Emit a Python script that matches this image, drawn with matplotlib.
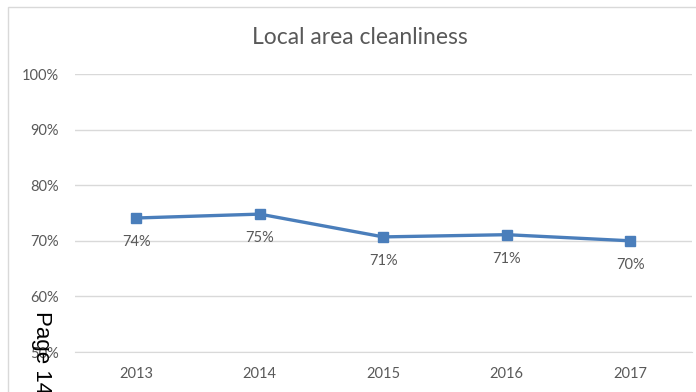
import matplotlib
matplotlib.use("Agg")
import matplotlib.pyplot as plt
from matplotlib.patches import Rectangle

years = ["2013", "2014", "2015", "2016", "2017"]
values = [74.1, 74.8, 70.7, 71.1, 70.0]
labels = ["74%", "75%", "71%", "71%", "70%"]
yticks = [50, 60, 70, 80, 90, 100]

W, H = 696, 392
fig = plt.figure(figsize=(W / 100, H / 100), dpi=100)
fig.patch.set_facecolor("white")

# outer chart border
fig.patches.append(Rectangle((8 / W, -0.1), 1.2, (H - 7) / H + 0.1, transform=fig.transFigure,
                             fill=False, edgecolor="#d9d9d9", linewidth=1.0))

ax = fig.add_axes([74.5 / W, (H - 352) / H, (692 - 74.5) / W, (352 - 74) / H])
x = list(range(len(years)))
ax.plot(x, values, color="#4a7ebb", linewidth=2.4, marker="s", markersize=6.5,
        markerfacecolor="#4a7ebb", markeredgecolor="#4a7ebb", zorder=3)
for xi, v, lab in zip(x, values, labels):
    ax.annotate(lab, (xi, v), xytext=(0, -17.5), textcoords="offset points",
                ha="center", va="center", fontsize=10.5, color="#595959", family="Lato")

ax.set_xlim(-0.5, len(years) - 0.5)
ax.set_ylim(50, 100)
ax.set_yticks(yticks)
ax.set_yticklabels([f"{t}%" for t in yticks], fontsize=10.5, color="#595959", family="Lato")
ax.set_xticks(x)
ax.set_xticklabels(years, fontsize=10.5, color="#595959", family="Lato")
ax.tick_params(axis="both", length=0)
ax.tick_params(axis="y", pad=11)
ax.tick_params(axis="x", pad=11)
ax.grid(axis="y", color="#d9d9d9", linewidth=1.0)
ax.set_axisbelow(True)
for s in ["top", "right", "left"]:
    ax.spines[s].set_visible(False)
ax.spines["bottom"].set_color("#d9d9d9")

fig.text(360 / W, 1 - 38 / H, "Local area cleanliness", ha="center", va="center",
         fontsize=16.5, color="#595959", family="Lato")

fig.text(41 / W, 1 - 311 / H, "Page 14", rotation=270, ha="center", va="top",
         fontsize=16, color="black", family="Liberation Sans")

fig.savefig("out.png", dpi=100)
